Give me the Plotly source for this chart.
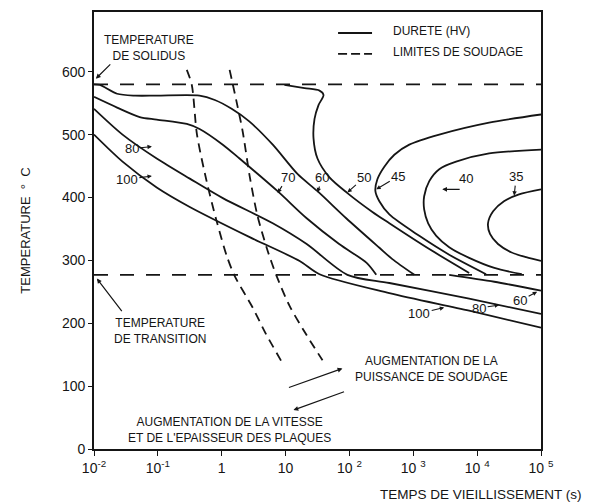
import numpy as np
import plotly.graph_objects as go

# temperatures (deg C) of the two horizontal limits
solidus_T = 580
transition_T = 277
limit_t = [0.01, 1e5]

# hardness curves (HV): ageing time (s) and temperature (deg C)
h60_t = [0.010, 0.0124, 0.023, 0.044, 0.096, 0.45, 0.78, 1.43, 2.7, 6.3, 15.5, 31.6, 89, 295, 470, 1040]
h60_T = [580, 579, 565, 562, 562, 562, 555, 541, 521, 484, 437, 410, 367, 320, 302, 277]
h60b_t = [3650, 18600, 1e5]
h60b_T = [277, 266, 252]

h70_t = [0.010, 0.023, 0.052, 0.096, 0.284, 0.45, 1.04, 1.9, 7.5, 21.4, 69, 186, 263]
h70_T = [560, 543, 528, 524, 517, 509, 484, 462, 410, 367, 326, 296, 277]

h80_t = [0.010, 0.028, 0.096, 0.316, 1.04, 6.3, 21.4, 93, 422, 7500, 1e5]
h80_T = [541, 500, 462, 430, 399, 359, 326, 277, 264, 239, 215]

h100_t = [0.010, 0.028, 0.096, 0.316, 2.74, 16.6, 34, 422, 7500, 1e5]
h100_T = [500, 457, 416, 385, 337, 299, 278, 248, 220, 193]

h50_t = [9.6, 19.8, 34, 39.3, 32.8, 28.4, 27.4, 31.6, 48.7, 93, 229, 422, 1780, 7500]
h50_T = [579, 574, 570, 563, 547, 525, 494, 462, 432, 407, 377, 359, 318, 280]

h45_t = [1e5, 15400, 2550, 866, 505, 352, 274, 255, 294, 422, 1240, 3650, 13800]
h45_T = [532, 519, 500, 484, 468, 449, 429, 410, 394, 373, 339, 309, 278]

h40_t = [1e5, 15400, 4680, 2550, 1780, 1480, 1480, 1710, 2290, 3650, 7500, 18600, 50000]
h40_T = [476, 470, 457, 445, 426, 402, 381, 359, 339, 321, 304, 288, 278]

h35_t = [1e5, 45300, 26300, 17800, 14800, 15900, 21200, 34000, 58700, 1e5]
h35_T = [413, 405, 394, 378, 359, 342, 326, 313, 305, 299]

# welding limits
w1_t = [0.284, 0.34, 0.41, 0.58, 0.835, 1.2, 1.6, 3.05, 4.87, 8.66]
w1_T = [603, 579, 500, 426, 362, 307, 275, 225, 184, 139]
w2_t = [1.33, 1.71, 2.13, 2.74, 3.65, 5.25, 7.25, 11.5, 20.5, 37.9]
w2_T = [603, 552, 505, 434, 370, 315, 275, 228, 184, 141]

tick_vals = [0.01, 0.1, 1, 10, 100, 1000, 1e4, 1e5]
tick_text = ["10<sup>-2</sup>", "10<sup>-1</sup>", "1", "10",
             "10 <sup>2</sup>", "10 <sup>3</sup>", "10 <sup>4</sup>", "10 <sup>5</sup>"]

FONT = "Liberation Sans, Arial, sans-serif"
INK = "#151515"

fig = go.Figure()

hard = [(h60_t, h60_T), (h60b_t, h60b_T), (h70_t, h70_T), (h80_t, h80_T), (h100_t, h100_T),
        (h50_t, h50_T), (h45_t, h45_T), (h40_t, h40_T), (h35_t, h35_T)]
for t, T in hard:
    fig.add_trace(go.Scatter(x=t, y=T, mode="lines",
                             line=dict(color=INK, width=1.8, shape="spline", smoothing=0.8),
                             showlegend=False, hoverinfo="skip"))

for t, T in [(w1_t, w1_T), (w2_t, w2_T)]:
    fig.add_trace(go.Scatter(x=t, y=T, mode="lines",
                             line=dict(color=INK, width=1.8, dash="9px,6px", shape="spline", smoothing=0.8),
                             showlegend=False, hoverinfo="skip"))

for T in [solidus_T, transition_T]:
    fig.add_trace(go.Scatter(x=limit_t, y=[T, T], mode="lines",
                             line=dict(color=INK, width=1.8, dash="14px,12px"),
                             showlegend=False, hoverinfo="skip"))

lg = np.log10
ann = []

# hardness labels with small arrows
for txt, t, T, ax, ay in [("80", 0.0806, 481, -20, 2), ("100", 0.0806, 434, -25, 3),
                          ("70", 7.5, 407, 10, -16), ("60", 31.6, 408, 5, -15),
                          ("50", 93, 408, 17, -15), ("45", 263, 413, 22, -13),
                          ("35", 38000, 403, 2, -19),
                          ("100", 3050, 225, -25, 6), ("80", 22100, 229, -20, 3),
                          ("60", 87000, 250, -17, 9)]:
    ann.append(dict(x=lg(t), y=T, text=txt, ax=ax, ay=ay, showarrow=True,
                    arrowhead=2, arrowsize=0.8, arrowwidth=1.1, arrowcolor=INK,
                    font=dict(size=13, color=INK, family=FONT)))

ann.append(dict(x=lg(6800), y=430, text="40", showarrow=False,
                font=dict(size=13, color=INK, family=FONT)))

# plain arrows (tail -> head)
for t0, T0, t1, T1 in [(5620, 413, 2840, 413), (0.019, 614, 0.0107, 589),
                       (0.0284, 217, 0.0111, 271), (10.7, 97, 77.6, 128),
                       (87, 92, 13.3, 62)]:
    ann.append(dict(x=lg(t1), y=T1, ax=lg(t0), ay=T0, axref="x", ayref="y", text="",
                    showarrow=True, arrowhead=2, arrowsize=0.8, arrowwidth=1.2,
                    arrowcolor=INK))

for txt, t, T in [("TEMPERATURE<br>DE SOLIDUS", 0.0725, 638),
                  ("TEMPERATURE<br>DE TRANSITION", 0.107, 188),
                  ("AUGMENTATION DE LA<br>PUISSANCE DE SOUDAGE", 1900, 128),
                  ("AUGMENTATION DE LA VITESSE<br>ET DE L'EPAISSEUR DES PLAQUES", 1.33, 30)]:
    ann.append(dict(x=lg(t), y=T, text=txt, showarrow=False, align="center",
                    font=dict(size=12, color=INK, family=FONT)))

# legend drawn by hand (paper coords)
shapes = [dict(type="line", xref="paper", yref="paper", x0=0.546, x1=0.622, y0=0.952, y1=0.952,
               line=dict(color=INK, width=1.8)),
          dict(type="line", xref="paper", yref="paper", x0=0.546, x1=0.622, y0=0.904, y1=0.904,
               line=dict(color=INK, width=1.8, dash="9px,4px"))]
for txt, y in [("DURETE (HV)", 0.957), ("LIMITES DE SOUDAGE", 0.909)]:
    ann.append(dict(xref="paper", yref="paper", x=0.665, y=y, xanchor="left", yanchor="middle",
                    text=txt, showarrow=False, font=dict(size=12, color=INK, family=FONT)))

ann.append(dict(xref="paper", yref="paper", x=1.097, y=-0.105, xanchor="right",
                yanchor="middle", text="TEMPS DE VIEILLISSEMENT (s)", showarrow=False,
                font=dict(size=13.5, color=INK, family=FONT)))

# page body has an 8px margin, so the figure is shrunk by that much
fig.update_layout(
    width=585, height=496,
    margin=dict(l=86, r=52, t=2, b=55),
    paper_bgcolor="white", plot_bgcolor="white",
    font=dict(family=FONT, color=INK, size=14),
    annotations=ann, shapes=shapes,
    showlegend=False,
)
fig.update_xaxes(type="log", range=[-2, 5], tickvals=tick_vals, ticktext=tick_text,
                 showgrid=False, zeroline=False, showline=True, mirror=True,
                 linecolor=INK, linewidth=1.6, ticks="outside", ticklen=5,
                 tickcolor=INK, tickfont=dict(size=14))
fig.update_yaxes(range=[0, 695], tickvals=[0, 100, 200, 300, 400, 500, 600],
                 showgrid=False, zeroline=False, showline=True, mirror=True,
                 linecolor=INK, linewidth=1.6, ticks="outside", ticklen=4,
                 tickcolor=INK, tickfont=dict(size=14),
                 title=dict(text="TEMPERATURE  °  C", standoff=28, font=dict(size=13)))

fig.write_html("out.html")
